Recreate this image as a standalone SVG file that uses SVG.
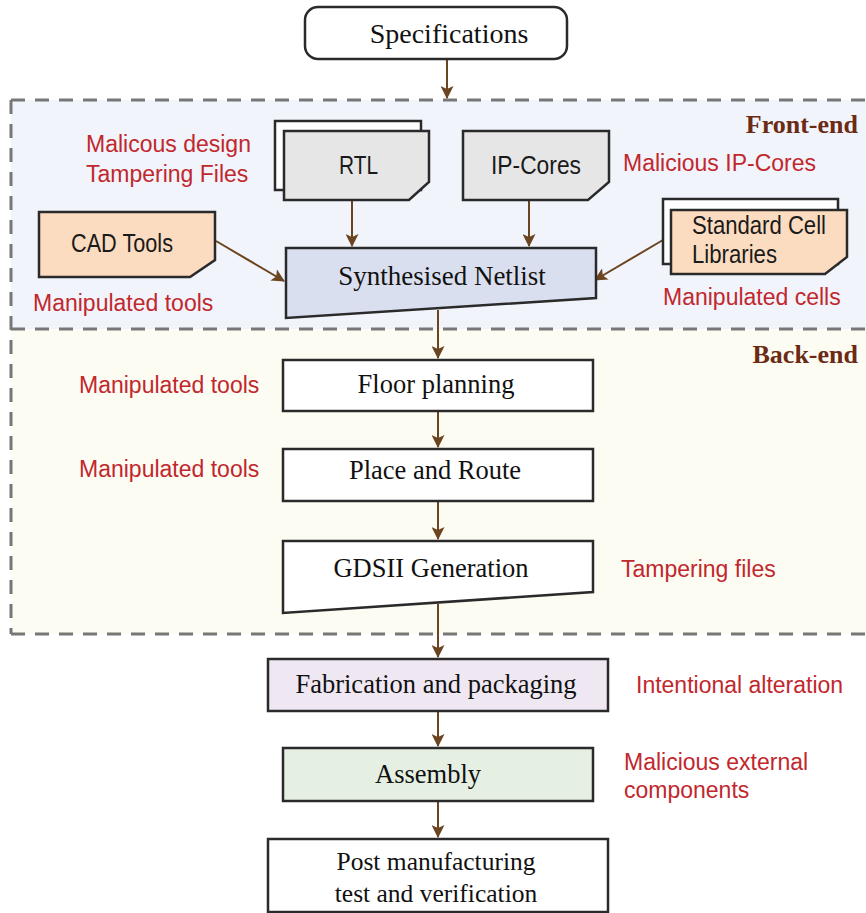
<svg xmlns="http://www.w3.org/2000/svg" width="866" height="913" viewBox="0 0 866 913">
  <defs>
    <marker id="arrow" viewBox="0 0 13 13" refX="12" refY="6.5" markerWidth="13" markerHeight="13" markerUnits="userSpaceOnUse" orient="auto">
      <path d="M0,0 L13,6.5 L0,13 L3,6.5 Z" fill="#6b4420"/>
    </marker>
    <style>
      .box { stroke: #2a2a2a; stroke-width: 2.5; }
      .serif { font-family: "Liberation Serif", "Times New Roman", serif; font-size: 26.5px; fill: #111; text-anchor: middle; }
      .sans { font-family: "Liberation Sans", Arial, sans-serif; font-size: 25px; fill: #1a1a1a; }
      .threat { font-family: "Liberation Sans", Arial, sans-serif; font-size: 23px; fill: #c1272d; }
      .phase { font-family: "Liberation Serif", "Times New Roman", serif; font-size: 26px; font-weight: bold; fill: #6b2a14; text-anchor: end; }
      .dash { stroke: #777; stroke-width: 3; stroke-dasharray: 14 10; fill: none; }
      .conn { stroke: #6b4420; stroke-width: 2; fill: none; marker-end: url(#arrow); }
    </style>
  </defs>

  <rect width="866" height="913" fill="#ffffff"/>

  <!-- design phase regions -->
  <g id="regions">
    <rect x="11" y="100" width="870" height="229" fill="#f1f4fa"/>
    <rect x="11" y="329" width="870" height="305" fill="#fcfcf3"/>
    <line class="dash" x1="11" y1="100" x2="866" y2="100"/>
    <line class="dash" x1="11" y1="329" x2="866" y2="329"/>
    <line class="dash" x1="11" y1="634" x2="866" y2="634"/>
    <line class="dash" x1="11" y1="100" x2="11" y2="634"/>
    <text class="phase" x="858" y="133">Front-end</text>
    <text class="phase" x="858" y="363">Back-end</text>
  </g>

  <!-- connectors -->
  <g id="connectors">
    <line class="conn" x1="447" y1="60" x2="447" y2="98"/>
    <line class="conn" x1="352" y1="201" x2="352" y2="246"/>
    <line class="conn" x1="529" y1="201" x2="529" y2="246"/>
    <line class="conn" x1="216" y1="241" x2="284" y2="281"/>
    <line class="conn" x1="663" y1="240" x2="595" y2="280"/>
    <line class="conn" x1="438" y1="310" x2="438" y2="358"/>
    <line class="conn" x1="438" y1="412" x2="438" y2="447"/>
    <line class="conn" x1="438" y1="501" x2="438" y2="539"/>
    <line class="conn" x1="438" y1="604" x2="438" y2="657"/>
    <line class="conn" x1="438" y1="712" x2="438" y2="746"/>
    <line class="conn" x1="438" y1="801" x2="438" y2="837"/>
  </g>

  <g id="specifications">
    <rect class="box" x="305" y="7" width="262" height="52" rx="13" fill="#ffffff"/>
    <text class="serif" x="449" y="43" style="font-size:28px">Specifications</text>
  </g>

  <g id="rtl">
    <rect class="box" x="275" y="121" width="146" height="69" fill="#ffffff"/>
    <path class="box" d="M284,131 H429 V182 L409,200 H284 Z" fill="#e6e6e6"/>
    <text class="sans" x="339" y="174" textLength="39" lengthAdjust="spacingAndGlyphs">RTL</text>
  </g>

  <g id="ip-cores">
    <path class="box" d="M463,131 H609 V182 L588,200 H463 Z" fill="#e6e6e6"/>
    <text class="sans" x="491" y="174" textLength="90" lengthAdjust="spacingAndGlyphs">IP-Cores</text>
  </g>

  <g id="cad-tools">
    <path class="box" d="M39,212 H215 V260 L190,277 H39 Z" fill="#fcdcc0"/>
    <text class="sans" x="71" y="252" textLength="102" lengthAdjust="spacingAndGlyphs">CAD Tools</text>
  </g>

  <g id="standard-cells">
    <rect class="box" x="663" y="199" width="175" height="65" fill="#ffffff"/>
    <path class="box" d="M671,210 H847 V257 L825,274 H671 Z" fill="#fcdcc0"/>
    <text class="sans" x="692" y="234" textLength="134" lengthAdjust="spacingAndGlyphs">Standard Cell</text>
    <text class="sans" x="692" y="263" textLength="85" lengthAdjust="spacingAndGlyphs">Libraries</text>
  </g>

  <g id="netlist">
    <path class="box" d="M286,248 H596 V298 L286,318 Z" fill="#dadff0"/>
    <text class="serif" x="442" y="285" style="font-size:27px">Synthesised Netlist</text>
  </g>

  <g id="floor-planning">
    <rect class="box" x="283" y="360" width="310" height="51" fill="#ffffff"/>
    <text class="serif" x="436" y="393">Floor planning</text>
  </g>

  <g id="place-route">
    <rect class="box" x="283" y="449" width="310" height="52" fill="#ffffff"/>
    <text class="serif" x="435" y="479">Place and Route</text>
  </g>

  <g id="gdsii">
    <path class="box" d="M283,541 H593 V592 L283,613 Z" fill="#ffffff"/>
    <text class="serif" x="431" y="577">GDSII Generation</text>
  </g>

  <g id="fabrication">
    <rect class="box" x="268" y="659" width="340" height="52" fill="#efe8f3"/>
    <text class="serif" x="436" y="693">Fabrication and packaging</text>
  </g>

  <g id="assembly">
    <rect class="box" x="283" y="748" width="310" height="53" fill="#e5f0e3"/>
    <text class="serif" x="428" y="783">Assembly</text>
  </g>

  <g id="post-manufacturing">
    <rect class="box" x="268" y="839" width="340" height="73" fill="#ffffff"/>
    <text class="serif" x="436" y="870" style="font-size:25.5px">Post manufacturing</text>
    <text class="serif" x="436" y="902" style="font-size:25.5px">test and verification</text>
  </g>

  <!-- threat annotations -->
  <g id="threats">
    <text class="threat" x="86" y="152">Malicous design</text>
    <text class="threat" x="86" y="182">Tampering Files</text>
    <text class="threat" x="623" y="171">Malicious IP-Cores</text>
    <text class="threat" x="33" y="311">Manipulated tools</text>
    <text class="threat" x="663" y="305">Manipulated cells</text>
    <text class="threat" x="79" y="393">Manipulated tools</text>
    <text class="threat" x="79" y="477">Manipulated tools</text>
    <text class="threat" x="621" y="577">Tampering files</text>
    <text class="threat" x="636" y="693">Intentional alteration</text>
    <text class="threat" x="624" y="770">Malicious external</text>
    <text class="threat" x="624" y="798">components</text>
  </g>
</svg>
